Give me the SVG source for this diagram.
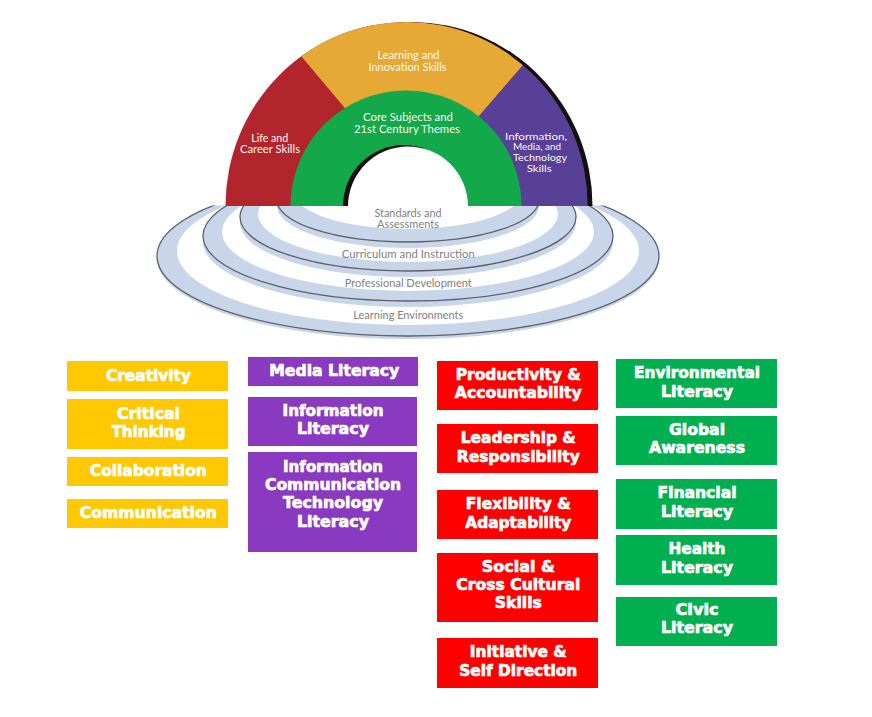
<svg xmlns="http://www.w3.org/2000/svg" width="872" height="717" viewBox="0 0 872 717">
<defs>
<style>
.bx{font-family:"DejaVu Sans","Liberation Sans",sans-serif;font-weight:bold;font-size:15.5px;fill:#fff;stroke:#fff;stroke-width:0.7px;text-anchor:middle}
.at{font-family:Lato,"Liberation Sans",sans-serif;font-size:11.5px;fill:#fbf7ef;text-anchor:middle}
.as{font-family:Lato,"Liberation Sans",sans-serif;font-size:10px;fill:#fbf7ef;text-anchor:middle}
.rt{font-family:Lato,"Liberation Sans",sans-serif;font-size:11.5px;fill:#808080;text-anchor:middle}
.ring{fill:#c9d5e8}
.gap{fill:#fff}
.edge{fill:none;stroke:#5d626c;stroke-width:1.3}
.y{fill:#ffc800}.p{fill:#8a3ac0}.r{fill:#ff0000}.g{fill:#00b050}
</style>
<clipPath id="below"><rect x="0" y="205.5" width="872" height="160"/></clipPath>
<clipPath id="archClip"><path d="M225.5,206 A181,184 0 0 1 587.5,206 Z"/></clipPath>
</defs>
<rect width="872" height="717" fill="#fff"/>

<g id="rings" clip-path="url(#below)">
  <g id="tier4">
    <ellipse class="ring" cx="408" cy="259" rx="251" ry="80"/>
    <ellipse class="ring" cx="408" cy="256" rx="251" ry="80"/>
    <ellipse class="edge" cx="408" cy="256" rx="251" ry="80"/>
    <ellipse class="gap" cx="408" cy="251" rx="231" ry="74"/>
  </g>
  <g id="tier3">
    <ellipse class="ring" cx="408" cy="242" rx="205" ry="65"/>
    <ellipse class="ring" cx="408" cy="236" rx="205" ry="65"/>
    <ellipse class="edge" cx="408" cy="236" rx="205" ry="65"/>
    <ellipse class="gap" cx="408" cy="232" rx="186" ry="59"/>
  </g>
  <g id="tier2">
    <ellipse class="ring" cx="408" cy="223" rx="168" ry="54"/>
    <ellipse class="ring" cx="408" cy="217" rx="168" ry="54"/>
    <ellipse class="edge" cx="408" cy="217" rx="168" ry="54"/>
    <ellipse class="gap" cx="408" cy="214" rx="150" ry="48"/>
  </g>
  <g id="tier1">
    <ellipse class="ring" cx="408" cy="206" rx="131" ry="42"/>
    <ellipse class="ring" cx="408" cy="200" rx="131" ry="42"/>
    <ellipse class="edge" cx="408" cy="200" rx="131" ry="42"/>
    <ellipse class="gap" cx="408" cy="193" rx="113" ry="36"/>
  </g>
</g>

<g id="arch">
  <path d="M230.5,206 A181,184 0 0 1 592.5,206 Z" fill="#111"/>
  <g clip-path="url(#archClip)">
    <rect x="200" y="0" width="420" height="210" fill="#b3252d"/>
    <polygon points="216.5,-44.5 386.9,157.9 437.7,164 606.9,-32" fill="#e6a935"/>
    <polygon points="606.9,-32 437.7,164 437.7,210 700,210 700,-32" fill="#583f98"/>
  </g>
  <path d="M290.5,206 A115.5,115.5 0 0 1 521.5,206 Z" fill="#13a94b"/>
  <path d="M343,206 A61,61 0 0 1 465,206 Z" fill="#111"/>
  <path d="M348,206.5 A60,60 0 0 1 468,206.5 Z" fill="#fff"/>
</g>

<g id="arch-labels">
  <text class="at" x="408.5" y="59.3" textLength="62" lengthAdjust="spacingAndGlyphs">Learning and</text>
  <text class="at" x="407.5" y="71" textLength="78" lengthAdjust="spacingAndGlyphs">Innovation Skills</text>
  <text class="at" x="408" y="121" textLength="90" lengthAdjust="spacingAndGlyphs">Core Subjects and</text>
  <text class="at" x="407" y="132.7" textLength="106" lengthAdjust="spacingAndGlyphs">21st Century Themes</text>
  <text class="at" x="269.7" y="141.7" textLength="37" lengthAdjust="spacingAndGlyphs">Life and</text>
  <text class="at" x="270" y="153.3" textLength="60" lengthAdjust="spacingAndGlyphs">Career Skills</text>
  <text class="as" x="536" y="139.5" textLength="62" lengthAdjust="spacingAndGlyphs">Information,</text>
  <text class="as" x="537" y="150.3" textLength="48" lengthAdjust="spacingAndGlyphs">Media, and</text>
  <text class="as" x="540" y="161" textLength="54" lengthAdjust="spacingAndGlyphs">Technology</text>
  <text class="as" x="539.2" y="171.5" textLength="25" lengthAdjust="spacingAndGlyphs">Skills</text>
</g>

<g id="ring-labels">
  <text class="rt" x="408" y="216.7" textLength="67" lengthAdjust="spacingAndGlyphs">Standards and</text>
  <text class="rt" x="408" y="228.3" textLength="62" lengthAdjust="spacingAndGlyphs">Assessments</text>
  <text class="rt" x="408.3" y="258.3" textLength="133" lengthAdjust="spacingAndGlyphs">Curriculum and Instruction</text>
  <text class="rt" x="408.3" y="287.3" textLength="127" lengthAdjust="spacingAndGlyphs">Professional Development</text>
  <text class="rt" x="408.3" y="319" textLength="110" lengthAdjust="spacingAndGlyphs">Learning Environments</text>
</g>

<g id="learning-innovation">
  <g id="creativity"><rect class="y" x="67" y="361" width="161" height="30"/>
    <text class="bx" x="148.5" y="380.7" textLength="85" lengthAdjust="spacingAndGlyphs">Creativity</text></g>
  <g id="critical-thinking"><rect class="y" x="67" y="399" width="161" height="50"/>
    <text class="bx" x="148.5" y="419" textLength="63" lengthAdjust="spacingAndGlyphs">Critical</text>
    <text class="bx" x="148.5" y="437.3" textLength="74" lengthAdjust="spacingAndGlyphs">Thinking</text></g>
  <g id="collaboration"><rect class="y" x="67" y="457" width="161" height="29"/>
    <text class="bx" x="148.3" y="475.7" textLength="117" lengthAdjust="spacingAndGlyphs">Collaboration</text></g>
  <g id="communication"><rect class="y" x="67" y="499" width="161" height="29"/>
    <text class="bx" x="148.3" y="517.7" textLength="137" lengthAdjust="spacingAndGlyphs">Communication</text></g>
</g>

<g id="information-media">
  <g id="media-literacy"><rect class="p" x="248" y="357" width="170" height="29"/>
    <text class="bx" x="334.3" y="376" textLength="130" lengthAdjust="spacingAndGlyphs">Media Literacy</text></g>
  <g id="information-literacy"><rect class="p" x="248" y="397" width="169" height="49"/>
    <text class="bx" x="333" y="415.7" textLength="101" lengthAdjust="spacingAndGlyphs">Information</text>
    <text class="bx" x="333" y="434" textLength="72" lengthAdjust="spacingAndGlyphs">Literacy</text></g>
  <g id="ict-literacy"><rect class="p" x="248" y="452" width="169" height="100"/>
    <text class="bx" x="333" y="472.3" textLength="100" lengthAdjust="spacingAndGlyphs">Information</text>
    <text class="bx" x="333" y="490.3" textLength="136" lengthAdjust="spacingAndGlyphs">Communication</text>
    <text class="bx" x="333" y="508.3" textLength="100" lengthAdjust="spacingAndGlyphs">Technology</text>
    <text class="bx" x="333" y="526.7" textLength="72" lengthAdjust="spacingAndGlyphs">Literacy</text></g>
</g>

<g id="life-career">
  <g id="productivity"><rect class="r" x="437" y="361" width="161" height="49"/>
    <text class="bx" x="518.3" y="380" textLength="125" lengthAdjust="spacingAndGlyphs">Productivity &amp;</text>
    <text class="bx" x="518.3" y="398.3" textLength="127" lengthAdjust="spacingAndGlyphs">Accountability</text></g>
  <g id="leadership"><rect class="r" x="437" y="424" width="161" height="49"/>
    <text class="bx" x="518.3" y="443.3" textLength="115" lengthAdjust="spacingAndGlyphs">Leadership &amp;</text>
    <text class="bx" x="518.3" y="461.7" textLength="123" lengthAdjust="spacingAndGlyphs">Responsibility</text></g>
  <g id="flexibility"><rect class="r" x="437" y="490" width="161" height="49"/>
    <text class="bx" x="518.3" y="509.3" textLength="105" lengthAdjust="spacingAndGlyphs">Flexibility &amp;</text>
    <text class="bx" x="518.3" y="527.7" textLength="106" lengthAdjust="spacingAndGlyphs">Adaptability</text></g>
  <g id="social"><rect class="r" x="437" y="553" width="161" height="69"/>
    <text class="bx" x="518.3" y="571.7" textLength="73" lengthAdjust="spacingAndGlyphs">Social &amp;</text>
    <text class="bx" x="518.3" y="590" textLength="124" lengthAdjust="spacingAndGlyphs">Cross Cultural</text>
    <text class="bx" x="518.3" y="608.3" textLength="47" lengthAdjust="spacingAndGlyphs">Skills</text></g>
  <g id="initiative"><rect class="r" x="437" y="638" width="161" height="50"/>
    <text class="bx" x="518.3" y="657.3" textLength="97" lengthAdjust="spacingAndGlyphs">Initiative &amp;</text>
    <text class="bx" x="518.3" y="675.7" textLength="118" lengthAdjust="spacingAndGlyphs">Self Direction</text></g>
</g>

<g id="themes">
  <g id="environmental"><rect class="g" x="616" y="359" width="161" height="49"/>
    <text class="bx" x="697" y="378.3" textLength="126" lengthAdjust="spacingAndGlyphs">Environmental</text>
    <text class="bx" x="697" y="396.7" textLength="72" lengthAdjust="spacingAndGlyphs">Literacy</text></g>
  <g id="global"><rect class="g" x="616" y="416" width="161" height="49"/>
    <text class="bx" x="697" y="435" textLength="56" lengthAdjust="spacingAndGlyphs">Global</text>
    <text class="bx" x="697" y="453.3" textLength="96" lengthAdjust="spacingAndGlyphs">Awareness</text></g>
  <g id="financial"><rect class="g" x="616" y="479" width="161" height="50"/>
    <text class="bx" x="697" y="498.3" textLength="79" lengthAdjust="spacingAndGlyphs">Financial</text>
    <text class="bx" x="697" y="516.7" textLength="72" lengthAdjust="spacingAndGlyphs">Literacy</text></g>
  <g id="health"><rect class="g" x="616" y="535" width="161" height="50"/>
    <text class="bx" x="697" y="554" textLength="57" lengthAdjust="spacingAndGlyphs">Health</text>
    <text class="bx" x="697" y="572.7" textLength="72" lengthAdjust="spacingAndGlyphs">Literacy</text></g>
  <g id="civic"><rect class="g" x="616" y="597" width="161" height="49"/>
    <text class="bx" x="697" y="615.3" textLength="43" lengthAdjust="spacingAndGlyphs">Civic</text>
    <text class="bx" x="697" y="633.3" textLength="72" lengthAdjust="spacingAndGlyphs">Literacy</text></g>
</g>
</svg>
